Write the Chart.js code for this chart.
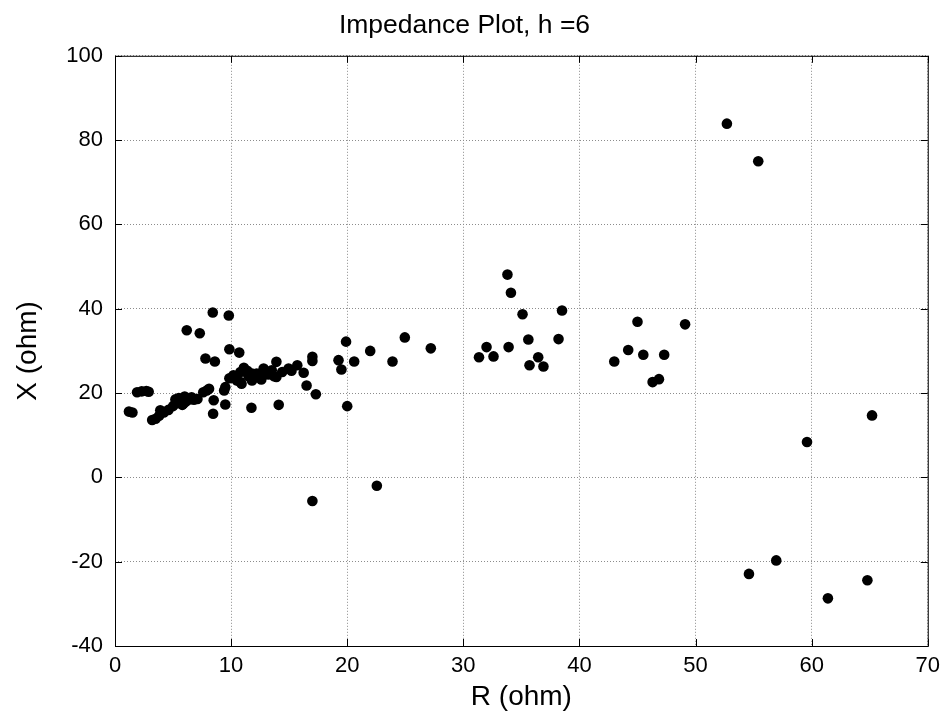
<!DOCTYPE html>
<html>
<head>
<meta charset="utf-8">
<script src="https://cdn.jsdelivr.net/npm/chart.js@4"></script>
<style>
  html, body { margin: 0; padding: 0; background: #fff; }
  #wrap { width: 947px; height: 714px; }
</style>
</head>
<body>
<div id="wrap"><canvas id="imp" width="947" height="714"></canvas></div>
<script>
// R (ohm) and X (ohm), point by point
const rValues = [
  1.2, 1.5, 1.9, 2.3, 2.7, 2.9,
  3.2, 3.5, 3.8, 4.2, 4.6, 3.9,
  5.0, 5.3, 5.6, 5.8, 6.1, 6.4, 6.8, 7.1, 5.5, 6.0, 5.2, 6.6, 5.9,
  7.9, 8.1, 7.6, 8.5, 9.5, 8.45, 9.4, 9.5, 9.85, 10.2,
  6.18, 7.3, 8.42, 9.8, 9.85, 10.7, 7.79, 8.6,
  10.8, 10.8, 11.8, 12.95, 13.9, 13.9, 14.95, 15.7, 16.25, 13.5, 12.4,
  10.9, 11.8, 11.1, 12.8, 10.2, 11.5, 12.2, 13.2, 14.4, 15.2,
  12.6, 11.4, 13.7, 10.5,
  16.5, 17.3, 17.0, 17.0, 19.9, 19.25, 19.5, 20.6, 21.98, 23.9, 24.96, 27.2,
  20.0, 14.1, 11.75, 17.0, 22.55,
  31.35, 32.0, 32.6, 33.8, 34.1, 33.9, 35.1, 35.6, 36.45, 35.7, 36.9, 38.2, 38.5,
  43.0, 44.2, 45.0, 45.5, 46.3, 46.85, 47.3, 49.1,
  52.7, 55.4, 54.6, 56.95, 59.6, 61.4, 64.8, 65.2
];
const xValues = [
  15.6, 15.4, 20.2, 20.4, 20.5, 20.3,
  13.6, 13.9, 14.6, 15.4, 16.0, 15.9,
  16.9, 17.6, 18.2, 17.2, 18.0, 18.5, 18.4, 18.6, 18.8, 19.2, 18.5, 19.0, 17.5,
  20.6, 21.0, 20.2, 18.3, 17.3, 15.1, 20.6, 21.4, 23.5, 24.2,
  34.9, 34.2, 39.1, 38.4, 30.4, 29.6, 28.2, 27.5,
  25.0, 22.6, 24.6, 25.0, 27.4, 23.8, 25.8, 26.6, 24.8, 25.4, 24.2,
  22.2, 23.0, 26.0, 25.8, 23.8, 24.0, 24.6, 24.4, 25.0, 25.3,
  23.2, 25.3, 24.0, 23.0,
  21.8, 19.7, 28.6, 27.6, 32.2, 27.8, 25.6, 27.5, 30.0, 27.5, 33.2, 30.6,
  16.9, 17.2, 16.5, -5.6, -2.0,
  28.5, 30.9, 28.7, 48.1, 43.8, 30.9, 38.7, 32.7, 28.5, 26.6, 26.3, 32.8, 39.6,
  27.5, 30.2, 36.9, 29.1, 22.6, 23.3, 29.1, 36.3,
  83.9, 75.0, -22.9, -19.7, 8.4, -28.7, -24.4, 14.7
];
const xTicks = [0, 10, 20, 30, 40, 50, 60, 70];
const yTicks = [-40, -20, 0, 20, 40, 60, 80, 100];

const points = rValues.map((r, i) => ({ x: r, y: xValues[i] }));
const FONT = "'Liberation Sans', Arial, sans-serif";

// MATLAB style box with inward ticks
const boxPlugin = {
  id: "box",
  afterDraw(chart) {
    const { ctx, chartArea: a, scales } = chart;
    ctx.save();
    ctx.strokeStyle = "#000";
    ctx.lineWidth = 1;
    ctx.strokeRect(a.left + 0.5, a.top + 0.5, a.right - a.left, a.bottom - a.top);
    const t = 7;
    ctx.beginPath();
    xTicks.forEach(v => {
      const px = Math.round(scales.x.getPixelForValue(v)) + 0.5;
      ctx.moveTo(px, a.bottom); ctx.lineTo(px, a.bottom - t);
      ctx.moveTo(px, a.top); ctx.lineTo(px, a.top + t);
    });
    yTicks.forEach(v => {
      const py = Math.round(scales.y.getPixelForValue(v)) + 0.5;
      ctx.moveTo(a.left, py); ctx.lineTo(a.left + t, py);
      ctx.moveTo(a.right, py); ctx.lineTo(a.right - t, py);
    });
    ctx.stroke();
    ctx.restore();
  }
};

new Chart(document.getElementById("imp").getContext("2d"), {
  type: "scatter",
  data: {
    datasets: [{
      label: "Z",
      data: points,
      backgroundColor: "#000",
      borderColor: "#000",
      pointRadius: 5.3,
      pointHoverRadius: 5.3,
      borderWidth: 0
    }]
  },
  options: {
    responsive: false,
    animation: false,
    layout: { padding: { left: 0, right: 18, top: 0, bottom: 0 } },
    plugins: {
      legend: { display: false },
      tooltip: { enabled: false },
      title: {
        display: true,
        text: "Impedance Plot, h =6",
        color: "#000",
        font: { family: FONT, size: 26.5, weight: "normal" },
        padding: { top: 10, bottom: 14 }
      }
    },
    scales: {
      x: {
        type: "linear",
        min: 0, max: 70,
        afterBuildTicks: s => { s.ticks = xTicks.map(v => ({ value: v })); },
        afterFit: s => { s.height = 68; },
        grid: { color: "#8c8c8c", drawTicks: false, lineWidth: 1 },
        border: { display: false, dash: [1, 2] },
        ticks: { color: "#000", font: { family: FONT, size: 22 }, padding: 7, maxRotation: 0 },
        title: { display: true, text: "R (ohm)", color: "#000", font: { family: FONT, size: 28 }, padding: { top: 0, bottom: 0 } }
      },
      y: {
        type: "linear",
        min: -40, max: 100,
        afterBuildTicks: s => { s.ticks = yTicks.map(v => ({ value: v })); },
        afterFit: s => { s.width = 115; },
        grid: { color: "#8c8c8c", drawTicks: false, lineWidth: 1 },
        border: { display: false, dash: [1, 2] },
        ticks: { color: "#000", font: { family: FONT, size: 22 }, padding: 12 },
        title: { display: true, text: "X (ohm)", color: "#000", font: { family: FONT, size: 28 }, padding: { top: 11, bottom: 0 } }
      }
    }
  },
  plugins: [boxPlugin]
});
</script>
</body>
</html>
